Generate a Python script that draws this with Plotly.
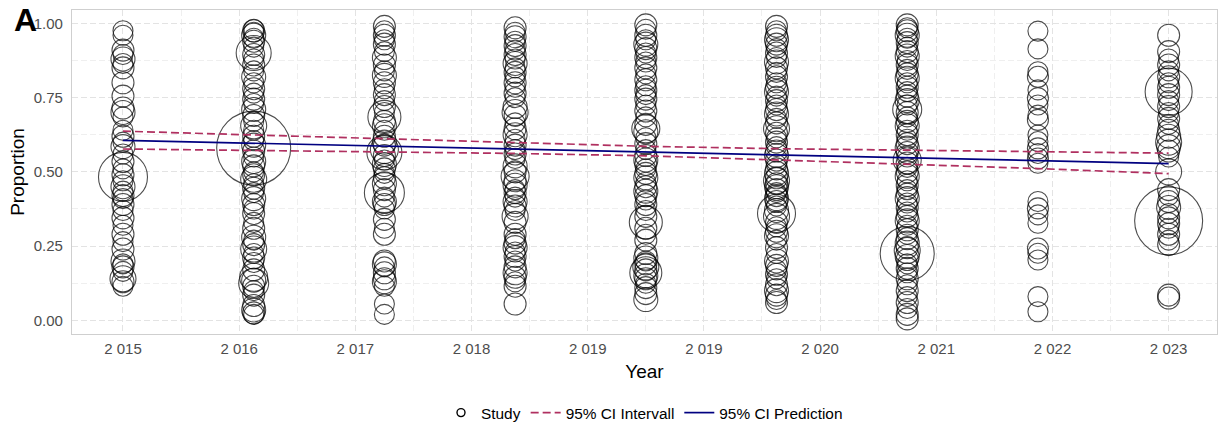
import numpy as np
import plotly.graph_objects as go

# ---------------- data ----------------
years = [2015, 2016, 2017, 2018, 2019, 2020, 2021, 2022, 2023]

prop_2015 = [0.975,0.96,0.91,0.895,0.88,0.865,0.85,0.80,0.755,0.715,
             0.70,0.685,0.64,0.62,0.60,0.585,0.56,0.535,0.51,0.49,
             0.483,0.47,0.45,0.435,0.42,0.41,0.39,0.37,0.345,0.32,
             0.29,0.265,0.24,0.20,0.19,0.18,0.165,0.14,0.13,0.115]
n_2015 = [400,400,484,400,576,400,484,484,484,484,
          576,400,400,484,400,576,400,484,400,484,
          2401,400,576,400,484,400,484,400,484,400,
          484,400,484,576,400,484,400,676,484,400]

prop_2016 = [0.98,0.975,0.97,0.96,0.95,0.94,0.92,0.90,0.895,0.88,
             0.86,0.84,0.82,0.80,0.78,0.765,0.745,0.73,0.71,0.69,
             0.67,0.655,0.64,0.62,0.605,0.59,0.58,0.57,0.55,0.535,
             0.52,0.50,0.49,0.475,0.46,0.445,0.43,0.41,0.39,0.375,
             0.36,0.33,0.31,0.28,0.27,0.255,0.24,0.225,0.21,0.195,
             0.17,0.145,0.135,0.125,0.115,0.10,0.085,0.05,0.035,0.025,
             0.02]
n_2016 = [400,484,400,576,400,484,400,1225,484,400,
          484,400,576,400,484,400,484,400,576,484,
          400,676,400,484,400,576,5476,484,400,576,
          484,400,484,676,400,484,400,576,484,400,
          484,400,484,576,400,484,676,400,484,400,
          484,784,576,900,484,400,484,484,576,484,
          400]

prop_2017 = [0.99,0.975,0.96,0.945,0.93,0.905,0.885,0.86,0.84,0.825,
             0.80,0.78,0.76,0.74,0.72,0.70,0.685,0.67,0.655,0.64,
             0.62,0.60,0.59,0.575,0.565,0.555,0.54,0.525,0.51,0.495,
             0.48,0.46,0.44,0.43,0.415,0.40,0.39,0.375,0.34,0.31,
             0.29,0.20,0.19,0.18,0.16,0.14,0.13,0.115,0.055,0.02]
n_2017 = [484,400,484,400,484,400,576,484,400,576,
          484,400,484,400,484,400,1089,484,576,400,
          484,576,484,784,1225,484,400,576,484,400,
          484,576,484,1600,400,576,484,400,484,400,
          484,484,576,400,484,484,576,400,400,400]

prop_2018 = [0.985,0.97,0.955,0.94,0.925,0.91,0.895,0.88,0.865,0.85,
             0.835,0.82,0.80,0.785,0.765,0.75,0.72,0.70,0.69,0.665,
             0.645,0.625,0.61,0.59,0.575,0.56,0.545,0.52,0.50,0.485,
             0.47,0.455,0.44,0.43,0.415,0.40,0.385,0.37,0.35,0.33,
             0.29,0.275,0.26,0.245,0.23,0.215,0.20,0.18,0.16,0.145,
             0.13,0.115,0.055]
n_2018 = [484,400,484,400,484,400,484,400,576,400,
          484,400,484,400,484,400,576,676,484,400,
          484,576,400,484,400,484,400,576,484,784,
          484,576,400,484,400,576,484,400,676,484,
          484,400,484,576,400,484,400,484,576,484,
          400,484,484]

prop_2019 = [0.995,0.98,0.96,0.945,0.93,0.915,0.90,0.885,0.87,0.85,
             0.83,0.81,0.79,0.775,0.76,0.745,0.725,0.705,0.685,0.66,
             0.645,0.635,0.615,0.595,0.575,0.555,0.54,0.525,0.51,0.495,
             0.48,0.465,0.45,0.435,0.42,0.405,0.39,0.37,0.35,0.33,
             0.31,0.29,0.27,0.225,0.21,0.20,0.19,0.18,0.17,0.16,
             0.15,0.14,0.125,0.11,0.09,0.07]
n_2019 = [484,400,484,400,576,484,400,484,400,484,
          400,484,400,484,400,484,400,484,400,484,
          784,576,400,484,400,484,576,484,400,484,
          576,400,484,576,484,400,484,400,484,1089,
          484,400,484,484,576,400,484,676,484,1024,
          576,484,400,484,484,576]

prop_2020 = [0.99,0.975,0.96,0.945,0.93,0.915,0.90,0.885,0.87,0.85,
             0.835,0.82,0.80,0.785,0.77,0.755,0.74,0.725,0.71,0.695,
             0.68,0.665,0.645,0.63,0.615,0.60,0.585,0.57,0.555,0.54,
             0.525,0.51,0.495,0.48,0.47,0.46,0.45,0.44,0.43,0.42,
             0.41,0.40,0.385,0.37,0.36,0.35,0.33,0.315,0.30,0.285,
             0.27,0.245,0.225,0.20,0.185,0.17,0.155,0.14,0.12,0.10,
             0.085,0.07,0.06]
n_2020 = [484,400,484,576,484,400,484,400,576,484,
          400,484,400,484,576,400,484,400,484,576,
          400,484,676,484,400,484,400,484,576,484,
          400,484,576,484,676,484,576,484,400,484,
          576,484,400,576,1444,676,484,400,484,576,
          400,484,400,576,484,400,484,400,484,576,
          484,400,484]

prop_2021 = [0.995,0.985,0.975,0.96,0.95,0.935,0.92,0.905,0.89,0.875,
             0.86,0.845,0.83,0.815,0.80,0.785,0.77,0.755,0.74,0.725,
             0.71,0.70,0.685,0.67,0.655,0.64,0.625,0.61,0.595,0.58,
             0.565,0.55,0.54,0.53,0.515,0.50,0.485,0.47,0.455,0.44,
             0.425,0.41,0.395,0.38,0.365,0.35,0.335,0.32,0.305,0.29,
             0.275,0.26,0.245,0.235,0.225,0.215,0.205,0.19,0.175,0.16,
             0.14,0.12,0.10,0.08,0.06,0.04,0.02,0.005]
n_2021 = [484,400,484,576,400,484,400,484,576,400,
          484,400,484,576,400,484,400,484,576,400,
          841,484,400,484,576,400,484,400,484,576,
          484,400,784,484,400,484,576,400,484,400,
          484,576,400,484,400,484,576,400,484,400,
          484,576,484,676,2916,576,484,400,484,400,
          484,400,484,400,484,400,484,484]

prop_2022 = [0.974,0.914,0.837,0.82,0.776,0.748,0.725,0.691,0.675,0.624,
             0.602,0.579,0.562,0.545,0.529,0.40,0.377,0.355,0.327,0.242,
             0.226,0.203,0.08,0.029]
n_2022 = [400,400,400,441,400,441,400,400,441,400,
          400,441,400,441,400,400,441,400,400,441,
          400,400,400,400]

prop_2023 = [0.96,0.905,0.88,0.86,0.84,0.82,0.80,0.785,0.77,0.76,
             0.74,0.72,0.70,0.68,0.66,0.64,0.62,0.60,0.585,0.57,
             0.55,0.50,0.44,0.42,0.40,0.38,0.36,0.345,0.335,0.325,
             0.31,0.29,0.27,0.255,0.085,0.075]
n_2023 = [484,484,400,484,400,484,400,484,2209,484,
          400,484,400,484,400,484,576,676,576,484,
          400,676,484,400,484,576,400,484,4624,484,
          400,484,400,484,484,484]

pred_fit = [0.606, 0.596, 0.586, 0.577, 0.567, 0.557, 0.547, 0.538, 0.528]
ci_upper = [0.637, 0.624, 0.611, 0.598, 0.586, 0.578, 0.572, 0.568, 0.563]
ci_lower = [0.577, 0.571, 0.567, 0.562, 0.554, 0.540, 0.526, 0.511, 0.494]

x_tick_labels = ["2 015", "2 016", "2 017", "2 018", "2 019",
                 "2 019", "2 020", "2 021", "2 022", "2 023"]
y_tick_labels = ["0.00", "0.25", "0.50", "0.75", "1.00"]

# ---------------- build ----------------
props = [prop_2015, prop_2016, prop_2017, prop_2018, prop_2019,
         prop_2020, prop_2021, prop_2022, prop_2023]
ns = [n_2015, n_2016, n_2017, n_2018, n_2019, n_2020, n_2021, n_2022, n_2023]

xs, ys, ws = [], [], []
for yr, p, n in zip(years, props, ns):
    m = min(len(p), len(n))
    xs += [yr] * m
    ys += p[:m]
    ws += n[:m]

FONT = "Liberation Sans, Arial, Helvetica, sans-serif"
fig = go.Figure()

fig.add_trace(go.Scatter(
    x=xs, y=ys, mode="markers", showlegend=False, hoverinfo="x+y",
    marker=dict(size=ws, sizemode="area", sizeref=2.0, symbol="circle-open",
                color="black", line=dict(width=1.1, color="black")),
))
# legend proxy for the study circles
fig.add_trace(go.Scatter(
    x=[None], y=[None], mode="markers", name="Study",
    marker=dict(size=8, symbol="circle-open", color="black",
                line=dict(width=1.4, color="black")),
))
fig.add_trace(go.Scatter(
    x=years, y=ci_upper, mode="lines", name="95% CI Intervall",
    legendgroup="ci", line=dict(color="#B03060", width=1.7, dash="8px,4px"),
))
fig.add_trace(go.Scatter(
    x=years, y=ci_lower, mode="lines", name="95% CI Intervall",
    legendgroup="ci", showlegend=False,
    line=dict(color="#B03060", width=1.7, dash="8px,4px"),
))
fig.add_trace(go.Scatter(
    x=years, y=pred_fit, mode="lines", name="95% CI Prediction",
    line=dict(color="#000080", width=1.7),
))

x_ticks = np.linspace(years[0], years[-1], len(x_tick_labels))
x_step = x_ticks[1] - x_ticks[0]
y_ticks = np.linspace(0, 1, len(y_tick_labels))

grid_major = "#e3e3e3"
grid_minor = "#efefef"

fig.update_layout(
    width=1218, height=425,
    margin=dict(l=72, r=1, t=10, b=91, autoexpand=False),
    paper_bgcolor="white", plot_bgcolor="white",
    font=dict(family=FONT, color="black"),
    showlegend=True,
    legend=dict(orientation="h", x=0.5, xanchor="center",
                yref="container", y=0.028, yanchor="middle",
                font=dict(size=15.4, color="black"),
                itemwidth=30, traceorder="normal", tracegroupgap=0),
    xaxis=dict(
        range=[2014.61, 2023.37], automargin=False,
        tickmode="array", tickvals=x_ticks, ticktext=x_tick_labels,
        tickfont=dict(size=15, color="#4d4d4d"), ticklabelstandoff=1,
        showgrid=True, gridcolor=grid_major, griddash="6px,3px", gridwidth=1,
        minor=dict(tickmode="linear", tick0=years[0] + x_step / 2, dtick=x_step,
                   showgrid=True, gridcolor=grid_minor, griddash="6px,3px",
                   gridwidth=1, ticks=""),
        zeroline=False, ticks="",
        showline=True, linecolor="#cfcfcf", linewidth=1.3, mirror=True,
        title=dict(text="Year", font=dict(size=19, color="black"), standoff=8),
    ),
    yaxis=dict(
        range=[-0.046, 1.045], automargin=False,
        tickmode="array", tickvals=y_ticks, ticktext=y_tick_labels,
        tickfont=dict(size=15, color="#4d4d4d"), ticklabelstandoff=5,
        showgrid=True, gridcolor=grid_major, griddash="6px,3px", gridwidth=1,
        minor=dict(tickmode="linear", tick0=0.125, dtick=0.25,
                   showgrid=True, gridcolor=grid_minor, griddash="6px,3px",
                   gridwidth=1, ticks=""),
        zeroline=False, ticks="",
        showline=True, linecolor="#cfcfcf", linewidth=1.3, mirror=True,
        title=dict(text="Proportion", font=dict(size=19, color="black"), standoff=3),
    ),
    annotations=[dict(text="<b>A</b>", xref="paper", yref="paper",
                      x=-0.041, y=0.968, xanchor="center", yanchor="middle",
                      showarrow=False, font=dict(size=32, color="black", family=FONT))],
)

fig.write_html("out.html", config={"displayModeBar": False},
               post_script="document.body.style.margin='0';")
